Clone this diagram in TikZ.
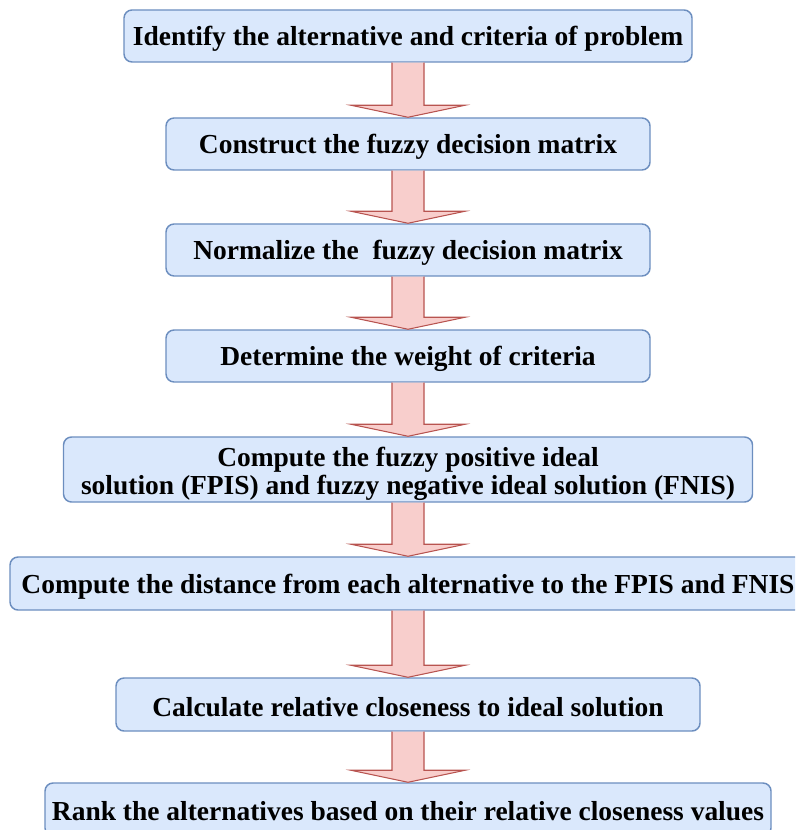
\documentclass[tikz,border=0pt]{standalone}
\usepackage{fontspec}
\setmainfont{Liberation Serif}
\usetikzlibrary{calc}
\definecolor{boxfill}{HTML}{DAE8FC}
\definecolor{boxline}{HTML}{6C8EBF}
\definecolor{arrfill}{HTML}{F8CECC}
\definecolor{arrline}{HTML}{B85450}
\tikzset{
  stepbox/.style={draw=boxline, fill=boxfill, line width=1.1pt, rounded corners=6pt,
    inner sep=0pt},
  steptext/.style={inner sep=0pt, align=center, font=\bfseries\fontsize{20.6}{20.8}\selectfont},
  arr/.style={draw=arrline, fill=arrfill, line width=0.8pt, line join=miter}
}
\newcommand\blockarrow[2]{%
  \draw[arr] ($(#1.south)+(-16,0)$) -- ($(#2.north)+(-16,-12)$) -- ($(#2.north)+(-57,-12)$)
    -- (#2.north) -- ($(#2.north)+(57,-12)$) -- ($(#2.north)+(16,-12)$) -- ($(#1.south)+(16,0)$);}
\begin{document}
\begin{tikzpicture}[x=0.75pt,y=-0.75pt]
\useasboundingbox (0,0) rectangle (795,830);
\begin{scope}
\clip (0,0) rectangle (795,830);
\node[stepbox, minimum width=568*0.75pt, minimum height=52*0.75pt] (s1) at (408,36) {};
\node[stepbox, minimum width=484*0.75pt, minimum height=52*0.75pt] (s2) at (408,144) {};
\node[stepbox, minimum width=484*0.75pt, minimum height=52*0.75pt] (s3) at (408,250) {};
\node[stepbox, minimum width=484*0.75pt, minimum height=52*0.75pt] (s4) at (408,356) {};
\node[stepbox, minimum width=689*0.75pt, minimum height=65*0.75pt] (s5) at (408,469.5) {};
\node[stepbox, minimum width=796*0.75pt, minimum height=53*0.75pt] (s6) at (408,583.5) {};
\node[stepbox, minimum width=584*0.75pt, minimum height=53*0.75pt] (s7) at (408,704.5) {};
\node[stepbox, minimum width=726*0.75pt, minimum height=53*0.75pt] (s8) at (408,809.5) {};
\node[steptext] (t1) at ($(s1.center)+(0,3)$) {Identify the alternative and criteria of problem};
\node[steptext] (t2) at ($(s2.center)+(0,3)$) {Construct the fuzzy decision matrix};
\node[steptext] (t3) at ($(s3.center)+(0,3)$) {Normalize the~ fuzzy decision matrix};
\node[steptext] (t4) at ($(s4.center)+(0,3)$) {Determine the weight of criteria};
\node[steptext] (t5) at ($(s5.center)+(0,4)$) {Compute the fuzzy positive ideal\\solution (FPIS) and fuzzy negative ideal solution (FNIS)};
\node[steptext] (t6) at ($(s6.center)+(0,3)$) {Compute the distance from each alternative to the FPIS and FNIS};
\node[steptext] (t7) at ($(s7.center)+(0,3)$) {Calculate relative closeness to ideal solution};
\node[steptext] (t8) at ($(s8.center)+(0,2)$) {Rank the alternatives based on their relative closeness values};
\blockarrow{s1}{s2}
\blockarrow{s2}{s3}
\blockarrow{s3}{s4}
\blockarrow{s4}{s5}
\blockarrow{s5}{s6}
\blockarrow{s6}{s7}
\blockarrow{s7}{s8}
\end{scope}
\end{tikzpicture}
\end{document}
